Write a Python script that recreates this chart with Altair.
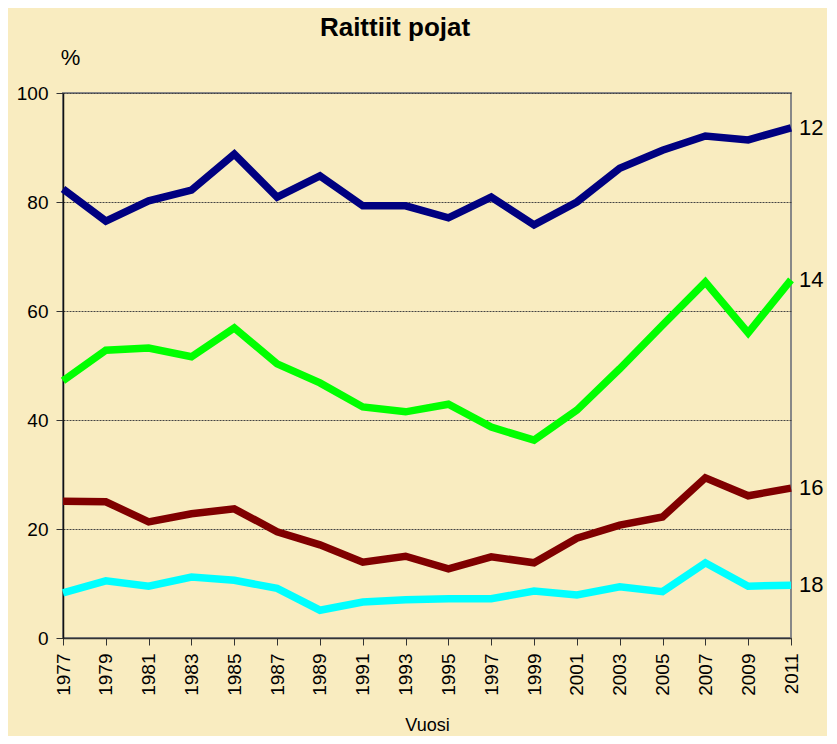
import altair as alt
import pandas as pd

years = list(range(1977, 2012, 2))
age12 = [82.4, 76.5, 80.2, 82.2, 88.8, 80.9, 84.8, 79.3, 79.3, 77.1, 80.9, 75.8, 80.0, 86.2, 89.5, 92.1, 91.4, 93.6]
age14 = [47.2, 52.8, 53.2, 51.6, 56.9, 50.3, 46.8, 42.4, 41.5, 42.9, 38.7, 36.3, 41.8, 49.4, 57.4, 65.3, 56.0, 65.7]
age16 = [25.1, 25.0, 21.3, 22.8, 23.7, 19.5, 17.1, 13.9, 15.0, 12.7, 14.9, 13.8, 18.3, 20.7, 22.2, 29.4, 26.1, 27.5]
age18 = [8.3, 10.5, 9.5, 11.2, 10.6, 9.1, 5.1, 6.6, 7.0, 7.2, 7.2, 8.6, 7.9, 9.4, 8.5, 13.8, 9.5, 9.7]
series_names = ["12", "14", "16", "18"]
series_colors = ["#000080", "#00ff00", "#800000", "#00ffff"]

rows = []
for name, vals in zip(series_names, [age12, age14, age16, age18]):
    for y, v in zip(years, vals):
        rows.append({"Vuosi": y, "Arvo": v, "Ikä": name})
df = pd.DataFrame(rows)
last = df[df["Vuosi"] == years[-1]]

FONT = "Liberation Sans"

x = alt.X("Vuosi:Q",
          scale=alt.Scale(domain=[1977, 2011], nice=False, zero=False),
          axis=alt.Axis(values=years, format="d", labelAngle=-90, labelAlign="right",
                        labelBaseline="middle", labelFontSize=19, labelPadding=8,
                        tickSize=7, tickColor="#333333", domainColor="#333333",
                        domainWidth=1.5, grid=False, title="Vuosi", titleFontSize=18,
                        titleFontWeight="normal", titlePadding=21, labelFont=FONT,
                        titleFont=FONT, labelColor="black", titleColor="black"))
y = alt.Y("Arvo:Q",
          scale=alt.Scale(domain=[0, 100], nice=False),
          axis=alt.Axis(values=[0, 20, 40, 60, 80, 100], labelFontSize=19, labelPadding=8,
                        tickSize=7, tickColor="#333333", domainColor="#111111",
                        domainWidth=1.5, grid=True, gridColor="#444444", gridDash=[2, 1],
                        gridWidth=1, title="%", titleAngle=0, titleX=7, titleY=-36,
                        titleAlign="center", titleBaseline="middle", titleFontSize=22,
                        titleFontWeight="normal", labelFont=FONT, titleFont=FONT,
                        labelColor="black", titleColor="black"))

color = alt.Color("Ikä:N", scale=alt.Scale(domain=series_names, range=series_colors), legend=None)

lines = alt.Chart(df).mark_line(strokeWidth=7.5, strokeJoin="miter").encode(x=x, y=y, color=color, detail="Ikä:N")
labels = alt.Chart(last).mark_text(align="left", baseline="middle", dx=8, fontSize=22, font=FONT, color="black").encode(
    x="Vuosi:Q", y="Arvo:Q", text="Ikä:N")

chart = (lines + labels).properties(
    width=728, height=545,
    background="#f9ecc0",
    autosize=alt.AutoSizeParams(type="none"),
    padding={"left": 55, "top": 85, "right": 36, "bottom": 98},
    title=alt.TitleParams("Raittiit pojat", fontSize=26, font=FONT, fontWeight="bold",
                          anchor="middle", dx=-32, offset=5, color="black"),
).configure_view(stroke="#888888", strokeWidth=2)

chart.save("out.html", embed_options={"renderer": "svg", "actions": False})
